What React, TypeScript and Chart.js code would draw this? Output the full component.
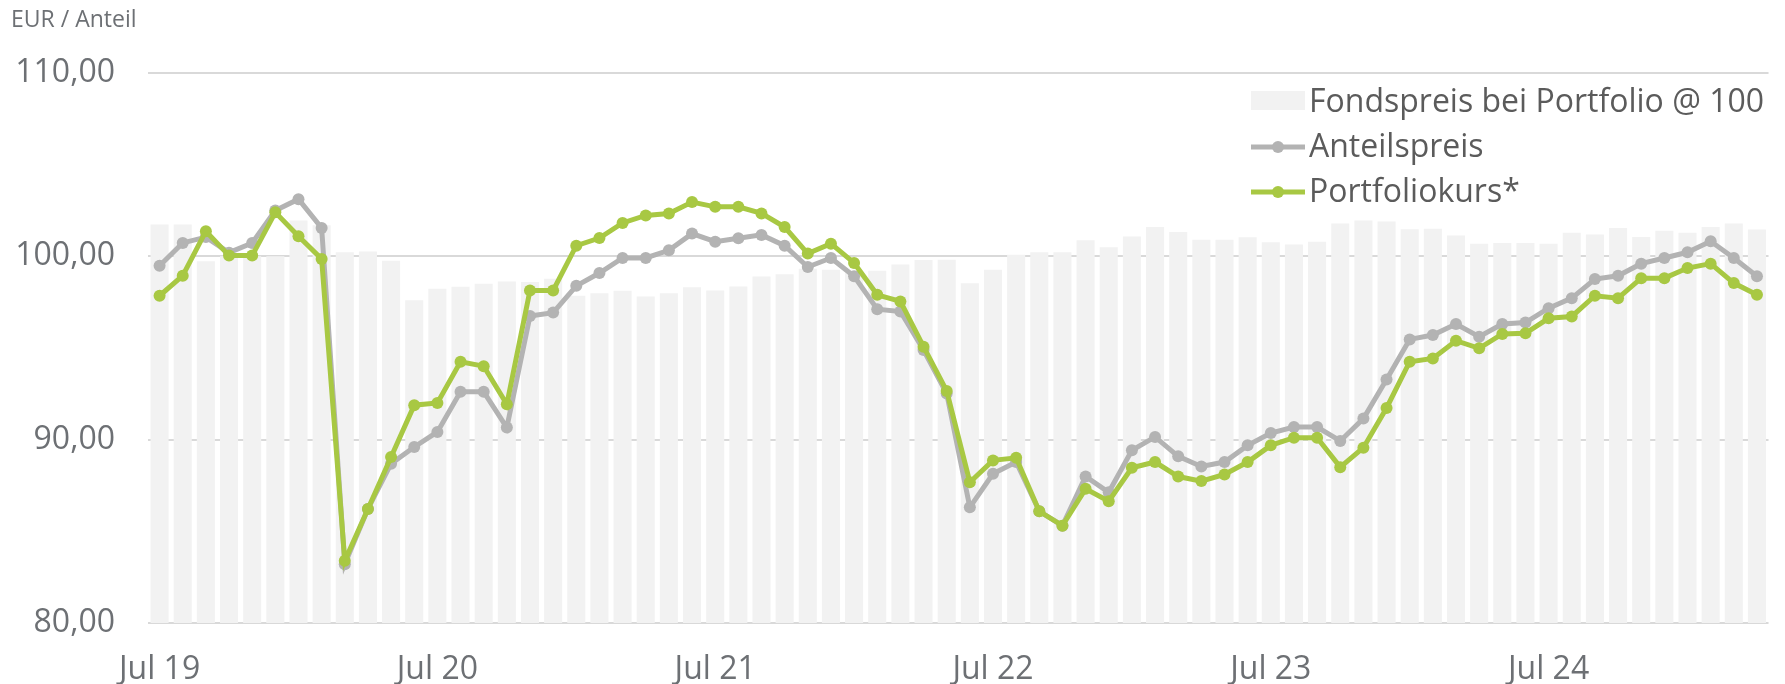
import React, { useEffect, useRef } from "react";
import { Chart, registerables } from "chart.js";

Chart.register(...registerables);

// ---------- data ----------
const categories = [
  "Jul 19", "Aug 19", "Sep 19", "Okt 19", "Nov 19", "Dez 19",
  "Jan 20", "Feb 20", "Mär 20", "Apr 20", "Mai 20", "Jun 20",
  "Jul 20", "Aug 20", "Sep 20", "Okt 20", "Nov 20", "Dez 20",
  "Jan 21", "Feb 21", "Mär 21", "Apr 21", "Mai 21", "Jun 21",
  "Jul 21", "Aug 21", "Sep 21", "Okt 21", "Nov 21", "Dez 21",
  "Jan 22", "Feb 22", "Mär 22", "Apr 22", "Mai 22", "Jun 22",
  "Jul 22", "Aug 22", "Sep 22", "Okt 22", "Nov 22", "Dez 22",
  "Jan 23", "Feb 23", "Mär 23", "Apr 23", "Mai 23", "Jun 23",
  "Jul 23", "Aug 23", "Sep 23", "Okt 23", "Nov 23", "Dez 23",
  "Jan 24", "Feb 24", "Mär 24", "Apr 24", "Mai 24", "Jun 24",
  "Jul 24", "Aug 24", "Sep 24", "Okt 24", "Nov 24", "Dez 24",
  "Jan 25", "Feb 25", "Mär 25", "Apr 25",
];

const fondspreis = [
  101.73, 101.73, 99.73, 100.0, 100.0, 100.0,
  101.95, 101.7, 100.22, 100.27, 99.76, 97.6,
  98.23, 98.34, 98.5, 98.63, 98.6, 98.78,
  97.85, 97.99, 98.12, 97.81, 97.99, 98.32,
  98.14, 98.36, 98.9, 99.02, 99.32, 99.27,
  99.1, 99.22, 99.55, 99.8, 99.82, 98.53,
  99.27, 100.08, 100.22, 100.22, 100.88, 100.5,
  101.08, 101.6, 101.33, 100.91, 100.91, 101.04,
  100.77, 100.64, 100.8, 101.79, 101.95, 101.9,
  101.48, 101.51, 101.13, 100.69, 100.73, 100.73,
  100.69, 101.28, 101.19, 101.55, 101.06, 101.4,
  101.28, 101.6, 101.79, 101.46,
];

const anteilspreis = [
  99.49, 100.73, 101.05, 100.2, 100.73, 102.5,
  103.12, 101.55, 83.21, 86.22, 88.69, 89.6,
  90.42, 92.61, 92.61, 90.66, 96.75, 96.93,
  98.39, 99.09, 99.91, 99.91, 100.33, 101.24,
  100.8, 100.99, 101.17, 100.58, 99.42, 99.91,
  98.91, 97.12, 96.99, 94.89, 92.52, 86.31,
  88.14, 88.78, 86.09, 85.31, 87.99, 87.13,
  89.42, 90.15, 89.09, 88.54, 88.78, 89.69,
  90.36, 90.69, 90.69, 89.93, 91.15, 93.28,
  95.47, 95.71, 96.31, 95.62, 96.31, 96.39,
  97.17, 97.72, 98.76, 98.94, 99.6, 99.91,
  100.22, 100.82, 99.91, 98.91,
];

const portfoliokurs = [
  97.85, 98.94, 101.37, 100.04, 100.04, 102.4,
  101.1, 99.86, 83.39, 86.22, 89.05, 91.88,
  92.0, 94.25, 94.01, 91.93, 98.14, 98.14,
  100.58, 101.0, 101.82, 102.23, 102.34, 102.96,
  102.7, 102.7, 102.34, 101.6, 100.15, 100.69,
  99.64, 97.9, 97.54, 95.07, 92.66, 87.68,
  88.87, 89.01, 86.09, 85.31, 87.32, 86.64,
  88.47, 88.78, 87.99, 87.74, 88.1, 88.78,
  89.69, 90.11, 90.11, 88.5, 89.56, 91.73,
  94.25, 94.43, 95.4, 94.98, 95.77, 95.8,
  96.62, 96.72, 97.85, 97.72, 98.81, 98.81,
  99.36, 99.6, 98.54, 97.9,
];

const yMin = 80;
const yMax = 110;
const yStep = 10;
const seriesNames = ["Fondspreis bei Portfolio @ 100", "Anteilspreis", "Portfoliokurs*"];
const unitLabel = "EUR / Anteil";

// ---------- styles ----------
const FONT = "'Open Sans', 'Noto Sans', sans-serif";
const BAR_COLOR = "#f2f2f2";
const GREY = "#b3b3b3";
const GREEN = "#a8c843";
const GRID = "#d9d9d9";
const TICK_COLOR = "#6d7074";
const LEGEND_COLOR = "#5b5b5b";
const LINE_W = 5;
const PT_R = 6;

const fmt = (v: number) => v.toFixed(2).replace(".", ",");

const overlayPlugin = {
  id: "overlayText",
  afterDraw(chart: any) {
    const ctx = chart.ctx as CanvasRenderingContext2D;
    ctx.save();
    // unit label
    ctx.fillStyle = TICK_COLOR;
    ctx.font = `normal 23px ${FONT}`;
    ctx.textAlign = "left";
    ctx.textBaseline = "alphabetic";
    ctx.fillText(unitLabel, 11, 27);

    // legend
    const sx = 1251;
    const sw = 54;
    const tx = 1309;
    const rows = [100, 145, 190];
    ctx.font = `normal 32px ${FONT}`;
    rows.forEach((cy, i) => {
      if (i === 0) {
        ctx.fillStyle = BAR_COLOR;
        ctx.fillRect(sx, cy - 9, sw, 19);
      } else {
        const col = i === 1 ? GREY : GREEN;
        ctx.strokeStyle = col;
        ctx.lineWidth = LINE_W;
        ctx.beginPath();
        ctx.moveTo(sx, cy + 2);
        ctx.lineTo(sx + sw, cy + 2);
        ctx.stroke();
        ctx.fillStyle = col;
        ctx.beginPath();
        ctx.arc(sx + sw / 2, cy + 2, PT_R, 0, Math.PI * 2);
        ctx.fill();
      }
      ctx.fillStyle = LEGEND_COLOR;
      ctx.fillText(seriesNames[i], tx, cy + 11.5);
    });
    ctx.restore();
  },
};

export default function App() {
  const ref = useRef<HTMLCanvasElement | null>(null);

  useEffect(() => {
    if (!ref.current) return;
    const lineDs = (label: string, data: number[], color: string, order: number) => ({
      type: "line",
      label,
      data,
      borderColor: color,
      backgroundColor: color,
      borderWidth: LINE_W,
      pointRadius: PT_R,
      pointBorderWidth: 0,
      pointBackgroundColor: color,
      tension: 0,
      fill: false,
      order,
    });
    const chart = new Chart(ref.current, {
      type: "bar",
      data: {
        labels: categories,
        datasets: [
          {
            type: "bar",
            label: seriesNames[0],
            data: fondspreis,
            backgroundColor: BAR_COLOR,
            borderWidth: 0,
            barPercentage: 0.78,
            categoryPercentage: 1.0,
            order: 3,
          },
          lineDs(seriesNames[1], anteilspreis, GREY, 2),
          lineDs(seriesNames[2], portfoliokurs, GREEN, 1),
        ] as any,
      },
      options: {
        responsive: false,
        animation: false,
        events: [],
        layout: { padding: { top: 73, right: 5, bottom: 0, left: 0 } },
        plugins: {
          legend: { display: false },
          title: { display: false },
          tooltip: { enabled: false },
        },
        scales: {
          x: {
            offset: true,
            grid: { display: false, drawTicks: false },
            border: { display: false },
            ticks: {
              autoSkip: false,
              maxRotation: 0,
              minRotation: 0,
              padding: 28,
              color: TICK_COLOR,
              font: { family: FONT, size: 32 },
              callback: (_v: any, i: number) =>
                categories[i].startsWith("Jul") ? categories[i] : "",
            },
            afterFit: (s: any) => {
              s.height = 61;
            },
          },
          y: {
            min: yMin,
            max: yMax,
            grid: { color: GRID, lineWidth: 2, drawTicks: false },
            border: { display: false },
            ticks: {
              stepSize: yStep,
              padding: 33,
              color: TICK_COLOR,
              font: { family: FONT, size: 32 },
              callback: (v: any) => fmt(Number(v)),
            },
            afterFit: (s: any) => {
              s.width = 148;
            },
          },
        },
      },
      plugins: [overlayPlugin],
    });
    return () => chart.destroy();
  }, []);

  return (
    <div style={{ position: "absolute", left: 0, top: 0, width: 1785, height: 684, background: "#fff" }}>
      <canvas ref={ref} width={1785} height={684} style={{ display: "block", width: 1785, height: 684 }} />
    </div>
  );
}
